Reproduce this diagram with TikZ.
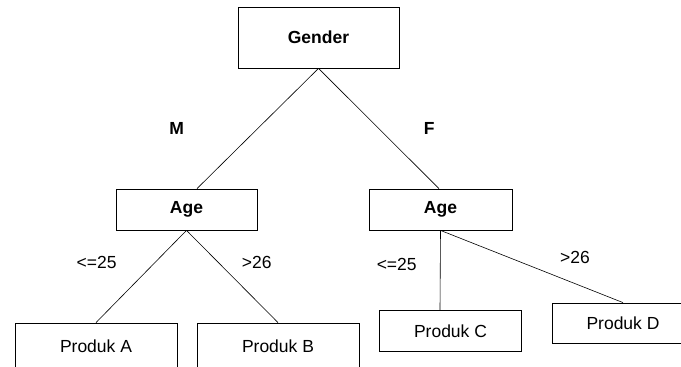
\documentclass[tikz,border=0pt]{standalone}
\usepackage{fontspec}
\setmainfont{Liberation Sans}
\usepackage{tikz}

\begin{document}
\begin{tikzpicture}[x=1pt,y=-1pt,
  treebox/.style={draw, line width=0.8pt, inner sep=0pt, font=\fontsize{17.5}{20}\selectfont},
  branch/.style={line width=0.6pt},
  lbl/.style={inner sep=0pt, font=\fontsize{17.5}{20}\selectfont}]
\useasboundingbox (0,0) rectangle (681,367);
\clip (0,0) rectangle (681,367);

% Root node
\node[treebox, minimum width=161pt, minimum height=61pt] (gender) at (318.5,37.5) {\textbf{Gender}};

% Age nodes
\node[treebox, minimum width=141pt, minimum height=41pt] (ageL) at (186.5,209.5) {\textbf{Age}};
\node[treebox, minimum width=143pt, minimum height=41pt] (ageR) at (440.5,209.5) {\textbf{Age}};

% Leaf nodes
\node[treebox, minimum width=162pt, minimum height=46pt] (prodA) at (96,346) {Produk A};
\node[treebox, minimum width=162pt, minimum height=46pt] (prodB) at (278,346) {Produk B};
\node[treebox, minimum width=142pt, minimum height=41pt] (prodC) at (450.5,331) {Produk C};
\node[treebox, minimum width=142pt, minimum height=40pt] (prodD) at (623,323) {Produk D};

% Branches from root
\draw[branch] (gender.south) -- ([xshift=10.5pt]ageL.north);
\draw[branch] (gender.south) -- ([xshift=-1.5pt]ageR.north);

% Branches from left Age
\draw[branch] (ageL.south) -- (prodA.north);
\draw[branch] (ageL.south) -- (prodB.north);

% Branches from right Age
\draw[branch] (ageR.south) -- ([xshift=-10.5pt]prodC.north);
\draw[branch] (ageR.south) -- (prodD.north);

% Branch labels
\node[lbl] (lblM) at (176.7,128.7) {\textbf{M}};
\node[lbl] (lblF) at (429.3,128.5) {\textbf{F}};
\node[lbl] (lblAL) at (96.7,262.3) {<=25};
\node[lbl] (lblBL) at (256.7,262.3) {>26};
\node[lbl] (lblCR) at (396.7,264.5) {<=25};
\node[lbl] (lblDR) at (575,257.5) {>26};

\end{tikzpicture}
\end{document}
